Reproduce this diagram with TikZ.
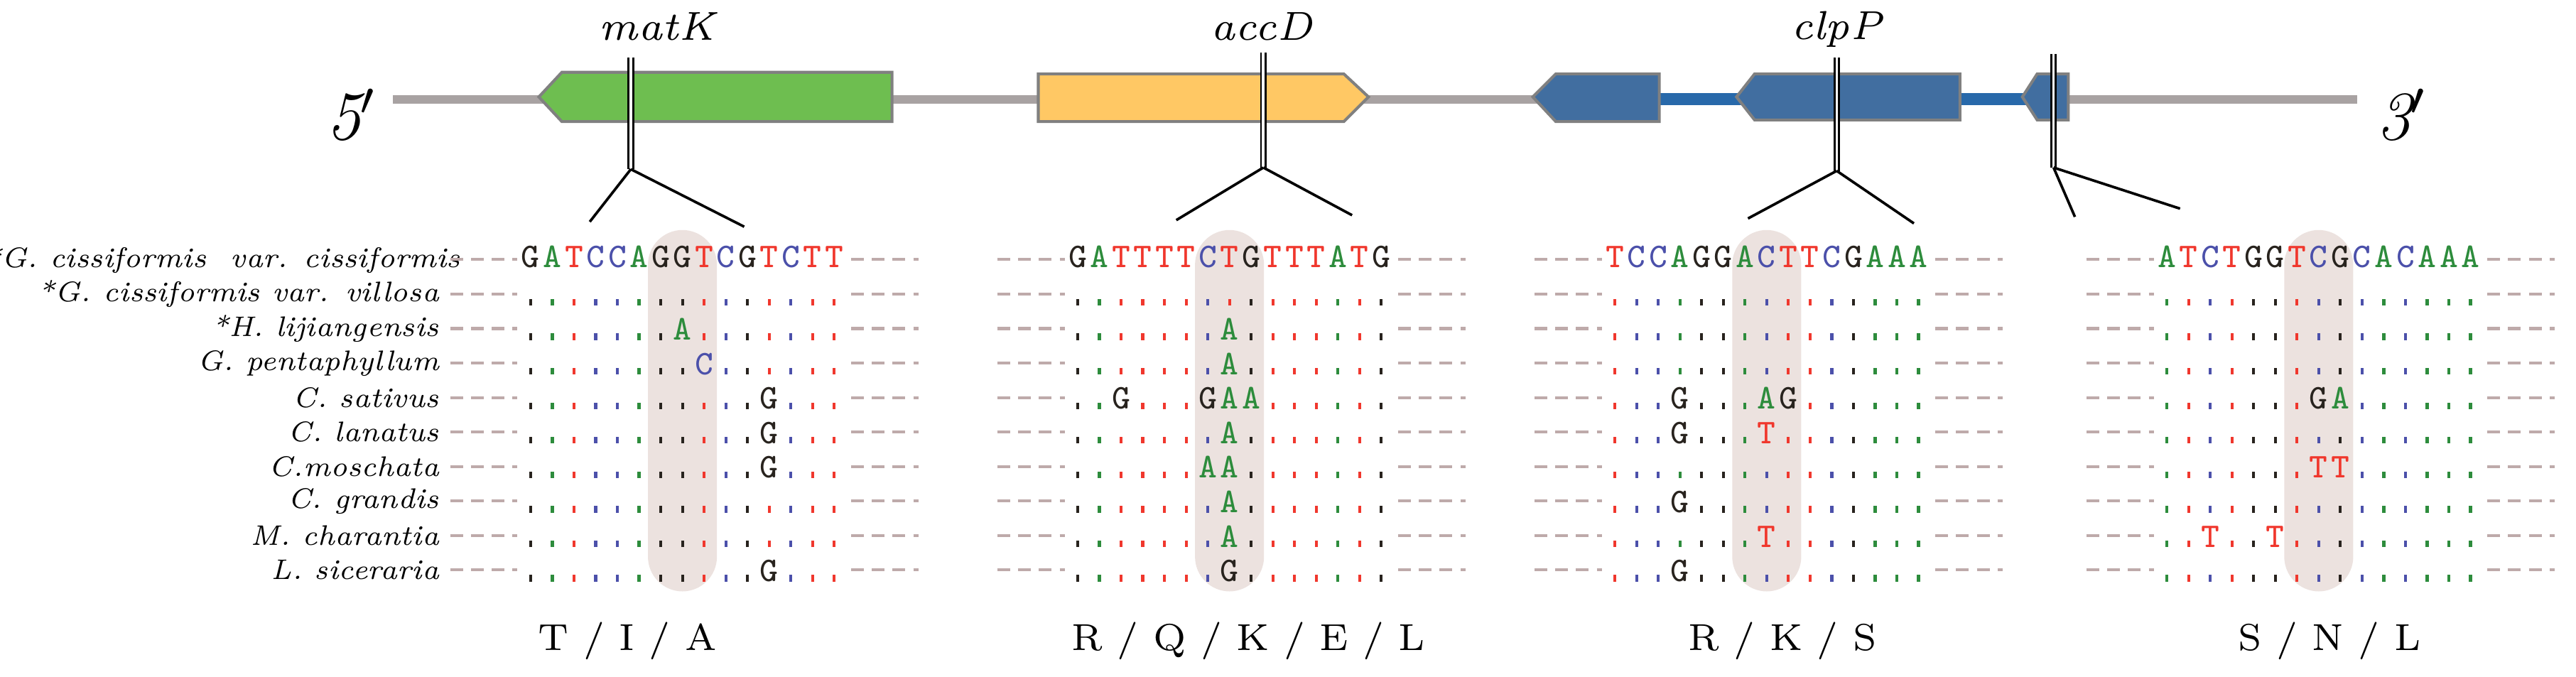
\documentclass[tikz,border=0pt]{standalone}
\usepackage{tikz}
\usetikzlibrary{positioning}

\definecolor{baseA}{RGB}{45,140,60}
\definecolor{baseT}{RGB}{240,55,45}
\definecolor{baseC}{RGB}{75,80,170}
\definecolor{baseG}{RGB}{40,35,30}
\definecolor{hlshade}{RGB}{236,226,223}
\definecolor{spine}{RGB}{168,162,162}
\definecolor{matkgreen}{RGB}{110,190,80}
\definecolor{accdyellow}{RGB}{255,200,100}
\definecolor{clppblue}{RGB}{65,110,160}
\definecolor{linkblue}{RGB}{40,105,170}
\definecolor{gapdash}{RGB}{190,170,170}

\tikzset{
  gene/.style={draw=gray, line width=0.5pt},
  taxon/.style={anchor=east, inner sep=0pt, font=\itshape\fontsize{4.9}{5.5}\selectfont},
  vchar/.style={anchor=base, inner sep=0pt, font=\ttfamily\fontsize{6}{6}\selectfont},
  aa/.style={font=\fontsize{6.5}{7.5}\selectfont},
  site/.style={double, double distance=0.45pt, line width=0.35pt},
  gap/.style={draw=gapdash, dash pattern=on 2.2pt off 1.4pt, line width=0.5pt}
}

\def\dotchar{.}
\newcommand\alnrow[4]{%
  \foreach \c [count=\i from 0] in #4{%
    \pgfmathsetmacro\xx{#1+13.2*\i}%
    \ifx\c\dotchar
      \pgfmathparse{{#3}[\i]}\edef\rb{\pgfmathresult}%
      \fill[base\rb] (\xx-0.9,#2+3) rectangle (\xx+0.9,#2+7);
    \else
      \node[vchar, text=base\c] at (\xx,#2+7) {\c};
    \fi}}
\newcommand\refrow[3]{%
  \foreach \c [count=\i from 0] in {#3}{%
    \pgfmathsetmacro\xx{#1+13.2*\i}%
    \node[vchar, text=base\c] at (\xx,#2+5) {\c};}}
\newcommand\panelbox[1]{%
  \fill[hlshade, rounded corners=6] (#1+92.4-21,140) rectangle (#1+92.4+21,360);
  \foreach \r in {0,...,9}{
    \draw[gap] (#1-49,158+21*\r) -- (#1-8,158+21*\r);
    \draw[gap] (#1+195,158+21*\r) -- (#1+236,158+21*\r);}}

\begin{document}
\begin{tikzpicture}[x=0.01cm, y=-0.01cm]
\useasboundingbox (0,0) rectangle (1568,412);

% chromosome backbone
\fill[spine] (239,58) rectangle (1435,63);
\fill[linkblue] (1008,56.5) rectangle (1060,64);
\fill[linkblue] (1190,56.5) rectangle (1236,64);
\node[font=\itshape\fontsize{12}{12}\selectfont] (five) at (214,70) {5$'$};
\node[font=\itshape\fontsize{12}{12}\selectfont] (three) at (1462,70) {3$'$};

% genes
\filldraw[gene, fill=matkgreen] (328,59) -- (342,44) -- (543,44) -- (543,74) -- (342,74) -- cycle;
\filldraw[gene, fill=accdyellow] (632,45) -- (818,45) -- (833,59) -- (818,74) -- (632,74) -- cycle;
\filldraw[gene, fill=clppblue] (933,59) -- (947,45) -- (1010,45) -- (1010,74) -- (947,74) -- cycle;
\filldraw[gene, fill=clppblue] (1057,59) -- (1068,45) -- (1193,45) -- (1193,73) -- (1068,73) -- cycle;
\filldraw[gene, fill=clppblue] (1231,59) -- (1240,45) -- (1259,45) -- (1259,73) -- (1240,73) -- cycle;
\node[font=\itshape\fontsize{7}{8}\selectfont] (matk) at (400,16) {matK};
\node[font=\itshape\fontsize{7}{8}\selectfont] (accd) at (768,16) {accD};
\node[font=\itshape\fontsize{7}{8}\selectfont] (clpp) at (1118,18) {clpP};

% site markers
\coordinate (s1top) at (384,35);   \coordinate (s1) at (384,103);
\coordinate (s1l) at (359,135);    \coordinate (s1r) at (453,138);
\coordinate (s2top) at (769,32);   \coordinate (s2) at (769,102);
\coordinate (s2l) at (716,134);    \coordinate (s2r) at (823,131);
\coordinate (s3top) at (1118,35);  \coordinate (s3) at (1118,104);
\coordinate (s3l) at (1064,133);   \coordinate (s3r) at (1165,136);
\coordinate (s4top) at (1250,33);  \coordinate (s4) at (1250,102);
\coordinate (s4l) at (1263,132);   \coordinate (s4r) at (1327,127);
\foreach \s in {s1,s2,s3,s4}{
  \draw[site] (\s top) -- (\s);
  \draw[line width=0.45pt] (\s) -- (\s l);
  \draw[line width=0.45pt] (\s) -- (\s r);}

% taxa
\node[taxon] (t0) at (281,158) {*G. cissiformis\ \ var. cissiformis};
\foreach \t [count=\r] in {*G. cissiformis var. villosa, *H. lijiangensis, G. pentaphyllum,
    C. sativus, C. lanatus, C.moschata, C. grandis, M. charantia, L. siceraria}
  \node[taxon] (t\r) at (268,158+21*\r) {\t};

% matK
\panelbox{323}
\refrow{323}{158}{G,A,T,C,C,A,G,G,T,C,G,T,C,T,T}
\foreach \row [count=\r] in {
  {.,.,.,.,.,.,.,.,.,.,.,.,.,.,.},
  {.,.,.,.,.,.,.,A,.,.,.,.,.,.,.},
  {.,.,.,.,.,.,.,.,C,.,.,.,.,.,.},
  {.,.,.,.,.,.,.,.,.,.,.,G,.,.,.},
  {.,.,.,.,.,.,.,.,.,.,.,G,.,.,.},
  {.,.,.,.,.,.,.,.,.,.,.,G,.,.,.},
  {.,.,.,.,.,.,.,.,.,.,.,.,.,.,.},
  {.,.,.,.,.,.,.,.,.,.,.,.,.,.,.},
  {.,.,.,.,.,.,.,.,.,.,.,G,.,.,.}}
  \alnrow{323}{158+21*\r}{"G","A","T","C","C","A","G","G","T","C","G","T","C","T","T"}{\row};
\node[aa] (p1) at (382,390) {T / I / A};

% accD
\panelbox{656}
\refrow{656}{158}{G,A,T,T,T,T,C,T,G,T,T,T,A,T,G}
\foreach \row [count=\r] in {
  {.,.,.,.,.,.,.,.,.,.,.,.,.,.,.},
  {.,.,.,.,.,.,.,A,.,.,.,.,.,.,.},
  {.,.,.,.,.,.,.,A,.,.,.,.,.,.,.},
  {.,.,G,.,.,.,G,A,A,.,.,.,.,.,.},
  {.,.,.,.,.,.,.,A,.,.,.,.,.,.,.},
  {.,.,.,.,.,.,A,A,.,.,.,.,.,.,.},
  {.,.,.,.,.,.,.,A,.,.,.,.,.,.,.},
  {.,.,.,.,.,.,.,A,.,.,.,.,.,.,.},
  {.,.,.,.,.,.,.,G,.,.,.,.,.,.,.}}
  \alnrow{656}{158+21*\r}{"G","A","T","T","T","T","C","T","G","T","T","T","A","T","G"}{\row};
\node[aa] (p2) at (760,390) {R / Q / K / E / L};

% clpP
\panelbox{983}
\refrow{983}{158}{T,C,C,A,G,G,A,C,T,T,C,G,A,A,A}
\foreach \row [count=\r] in {
  {.,.,.,.,.,.,.,.,.,.,.,.,.,.,.},
  {.,.,.,.,.,.,.,.,.,.,.,.,.,.,.},
  {.,.,.,.,.,.,.,.,.,.,.,.,.,.,.},
  {.,.,.,G,.,.,.,A,G,.,.,.,.,.,.},
  {.,.,.,G,.,.,.,T,.,.,.,.,.,.,.},
  {.,.,.,.,.,.,.,.,.,.,.,.,.,.,.},
  {.,.,.,G,.,.,.,.,.,.,.,.,.,.,.},
  {.,.,.,.,.,.,.,T,.,.,.,.,.,.,.},
  {.,.,.,G,.,.,.,.,.,.,.,.,.,.,.}}
  \alnrow{983}{158+21*\r}{"T","C","C","A","G","G","A","C","T","T","C","G","A","A","A"}{\row};
\node[aa] (p3) at (1085,390) {R / K / S};

% fourth site
\panelbox{1319}
\refrow{1319}{158}{A,T,C,T,G,G,T,C,G,C,A,C,A,A,A}
\foreach \row [count=\r] in {
  {.,.,.,.,.,.,.,.,.,.,.,.,.,.,.},
  {.,.,.,.,.,.,.,.,.,.,.,.,.,.,.},
  {.,.,.,.,.,.,.,.,.,.,.,.,.,.,.},
  {.,.,.,.,.,.,.,G,A,.,.,.,.,.,.},
  {.,.,.,.,.,.,.,.,.,.,.,.,.,.,.},
  {.,.,.,.,.,.,.,T,T,.,.,.,.,.,.},
  {.,.,.,.,.,.,.,.,.,.,.,.,.,.,.},
  {.,.,T,.,.,T,.,.,.,.,.,.,.,.,.},
  {.,.,.,.,.,.,.,.,.,.,.,.,.,.,.}}
  \alnrow{1319}{158+21*\r}{"A","T","C","T","G","G","T","C","G","C","A","C","A","A","A"}{\row};
\node[aa] (p4) at (1418,390) {S / N / L};
\end{tikzpicture}
\end{document}
